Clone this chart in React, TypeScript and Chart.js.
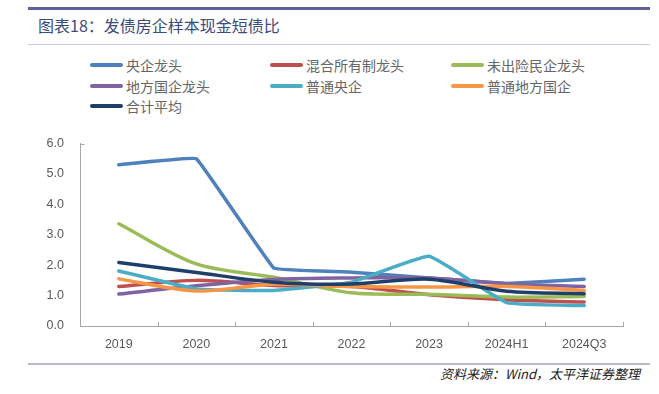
import React, { useEffect, useRef } from "react";
import { Chart, registerables } from "chart.js";

Chart.register(...registerables);

const categories = ["2019", "2020", "2021", "2022", "2023", "2024H1", "2024Q3"];

const seriesNames = [
  "央企龙头",
  "混合所有制龙头",
  "未出险民企龙头",
  "地方国企龙头",
  "普通央企",
  "普通地方国企",
  "合计平均",
];

const centralLeaders = [5.3, 5.5, 1.9, 1.77, 1.58, 1.4, 1.54];
const mixedLeaders = [1.3, 1.5, 1.33, 1.3, 1.03, 0.86, 0.79];
const privateLeaders = [3.36, 2.04, 1.6, 1.09, 1.04, 0.95, 0.97];
const localLeaders = [1.05, 1.32, 1.53, 1.58, 1.58, 1.39, 1.3];
const ordinaryCentral = [1.81, 1.22, 1.17, 1.44, 2.29, 0.77, 0.67];
const ordinaryLocal = [1.55, 1.15, 1.37, 1.3, 1.28, 1.3, 1.17];
const overallAverage = [2.09, 1.76, 1.44, 1.38, 1.54, 1.14, 1.06];

const seriesValues = [
  centralLeaders,
  mixedLeaders,
  privateLeaders,
  localLeaders,
  ordinaryCentral,
  ordinaryLocal,
  overallAverage,
];

const seriesColors = ["#4F81BD", "#C0504D", "#9BBB59", "#8064A2", "#4BACC6", "#F79646", "#1F3F6B"];
const seriesTension = [0.05, 0.3, 0.3, 0.3, 0.1, 0.3, 0.3];

const yTicks = [0, 1, 2, 3, 4, 5, 6];

const AXIS_COLOR = "#A6A6A6";
const TEXT_GRAY = "#595959";

const innerTicks = {
  id: "innerTicks",
  afterDraw(chart: any) {
    const { ctx, chartArea } = chart;
    const n = categories.length;
    ctx.save();
    ctx.strokeStyle = AXIS_COLOR;
    ctx.lineWidth = 1;
    ctx.beginPath();
    for (let i = 1; i <= n; i++) {
      const x = Math.round(chartArea.left + (i * (chartArea.right - chartArea.left)) / n) + 0.5;
      ctx.moveTo(x, chartArea.bottom);
      ctx.lineTo(x, chartArea.bottom - 4);
    }
    const lx = Math.round(chartArea.left) + 0.5;
    ctx.moveTo(lx, Math.round(chartArea.top) + 0.5);
    ctx.lineTo(lx + 4, Math.round(chartArea.top) + 0.5);
    ctx.stroke();
    ctx.restore();
  },
};

export default function App() {
  const canvasRef = useRef<HTMLCanvasElement | null>(null);

  useEffect(() => {
    if (!canvasRef.current) return;
    const n = seriesNames.length;
    const chart = new Chart(canvasRef.current, {
      type: "line",
      data: {
        labels: categories,
        datasets: seriesNames.map((name, i) => ({
          label: name,
          data: seriesValues[i],
          borderColor: seriesColors[i],
          backgroundColor: seriesColors[i],
          borderWidth: 3.5,
          pointRadius: 0,
          tension: seriesTension[i],
          fill: false,
          order: n - i,
          borderCapStyle: "round" as const,
          borderJoinStyle: "round" as const,
        })),
      },
      options: {
        responsive: false,
        animation: false,
        layout: { padding: { top: 22, right: 36, left: 0, bottom: 0 } },
        plugins: {
          legend: { display: false },
          tooltip: { enabled: false },
        },
        scales: {
          x: {
            type: "category",
            offset: true,
            grid: { drawOnChartArea: false, drawTicks: false },
            border: { display: true, color: AXIS_COLOR, width: 1 },
            ticks: {
              padding: 11,
              color: TEXT_GRAY,
              font: { family: "'Liberation Sans', Arial, sans-serif", size: 12.5 },
              maxRotation: 0,
            },
            afterFit: (s: any) => {
              s.height = 34;
            },
          },
          y: {
            min: yTicks[0],
            max: yTicks[yTicks.length - 1],
            afterBuildTicks: (s: any) => {
              s.ticks = yTicks.map((v) => ({ value: v }));
            },
            grid: { drawOnChartArea: false, drawTicks: false },
            border: { display: true, color: AXIS_COLOR, width: 1 },
            ticks: {
              padding: 16,
              color: TEXT_GRAY,
              font: { family: "'Liberation Sans', Arial, sans-serif", size: 12.5 },
              callback: (v: any) => Number(v).toFixed(1),
            },
            afterFit: (s: any) => {
              s.width = 80;
            },
          },
        },
      },
      plugins: [innerTicks],
    });
    return () => chart.destroy();
  }, []);

  const cjk = "'Noto Sans CJK SC', 'Noto Sans', sans-serif";
  const legendCols = [90, 270, 451];
  const legendRows = [65, 86, 106];

  return (
    <div
      style={{
        position: "absolute",
        left: 0,
        top: 0,
        width: 659,
        height: 394,
        background: "#ffffff",
        overflow: "hidden",
        fontFamily: cjk,
      }}
    >
      <div style={{ position: "absolute", left: 28, top: 7, width: 622, height: 3, background: "#62629A" }} />
      <div
        style={{
          position: "absolute",
          left: 38,
          top: 15,
          fontSize: 16,
          lineHeight: "20px",
          color: "#3C4B7E",
          whiteSpace: "nowrap",
        }}
      >
        图表18：发债房企样本现金短债比
      </div>
      <div style={{ position: "absolute", left: 28, top: 44, width: 622, height: 1, background: "#CACADB" }} />

      {seriesNames.map((name, i) => {
        const col = i % 3;
        const row = Math.floor(i / 3);
        const x = legendCols[col];
        const y = legendRows[row];
        return (
          <div
            key={name}
            style={{
              position: "absolute",
              left: x,
              top: y - 10,
              height: 20,
              display: "flex",
              alignItems: "center",
              whiteSpace: "nowrap",
            }}
          >
            <span
              style={{
                display: "inline-block",
                width: 33,
                height: 4,
                borderRadius: 2,
                background: seriesColors[i],
                marginRight: 3,
              }}
            />
            <span style={{ fontSize: 14, lineHeight: "20px", color: "#666666" }}>{name}</span>
          </div>
        );
      })}

      <canvas
        ref={canvasRef}
        width={659}
        height={240}
        style={{ position: "absolute", left: 0, top: 120, width: 659, height: 240 }}
      />

      <div style={{ position: "absolute", left: 28, top: 363, width: 622, height: 2, background: "#B8B8D4" }} />
      <div
        style={{
          position: "absolute",
          right: 659 - 640,
          top: 365,
          fontSize: 13,
          lineHeight: "17px",
          fontStyle: "italic",
          color: "#222222",
          whiteSpace: "nowrap",
        }}
      >
        资料来源：Wind，太平洋证券整理
      </div>
    </div>
  );
}
